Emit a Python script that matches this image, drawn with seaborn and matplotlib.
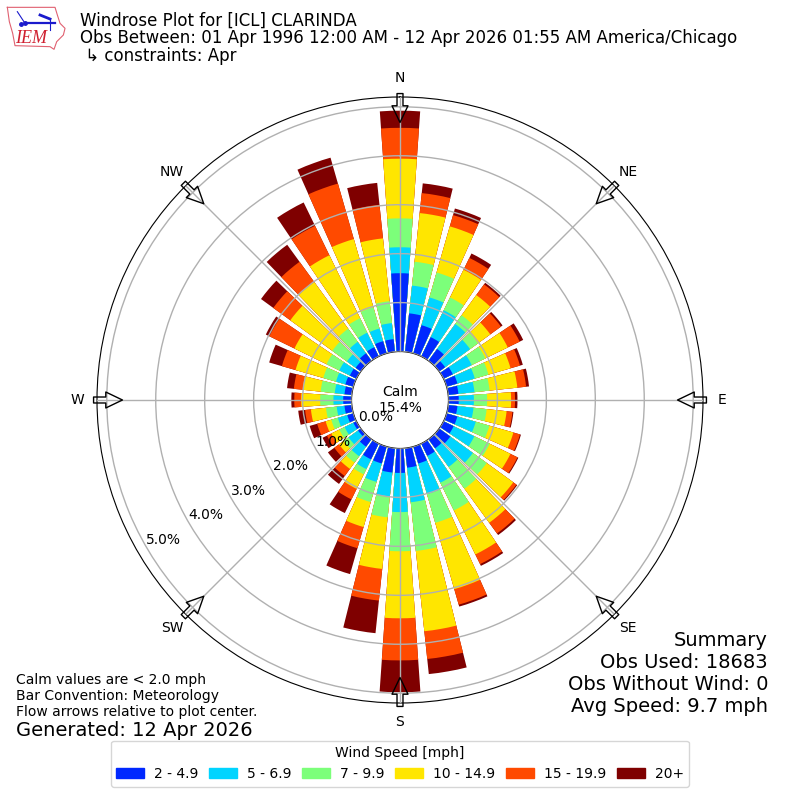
import numpy as np
import pandas as pd
import matplotlib
matplotlib.use('Agg')
import matplotlib.pyplot as plt
import seaborn as sns
from matplotlib.patches import Patch

# wind directions (deg from north) and percent of obs per speed bin
directions = list(range(0, 360, 10))
speed_labels = ['2 - 4.9', '5 - 6.9', '7 - 9.9', '10 - 14.9', '15 - 19.9', '20+']
speed_colors = ['#0028ff', '#00d4ff', '#7cff7a', '#ffe600', '#ff4a00', '#7f0000']

pct_2_5 = [1.60, .79, .60, .44, .30, .15, .21, .23, .21, .21, .19, .23,
           .23, .28, .23, .28, .36, .40, .50, .50, .36, .36, .19, .07,
           .07, .13, .15, .17, .15, .17, .15, .13, .19, .21, .26, .26]
pct_5_7 = [.53, .57, .59, .61, .63, .63, .43, .37, .33, .31, .33, .39,
           .47, .57, .47, .61, .65, .71, .80, .49, .39, .22, .24, .24,
           .20, .20, .16, .20, .20, .20, .24, .22, .29, .33, .27, .33]
pct_7_10 = [.59, .49, .53, .29, .22, .20, .31, .29, .31, .27, .27, .29,
            .35, .35, .55, .63, .61, 1.00, .80, .43, .43, .12, .16, .12,
            .12, .14, .22, .27, .29, .27, .29, .37, .33, .33, .45, .45]
pct_10_15 = [1.22, 1.00, .98, .63, .51, .31, .51, .47, .57, .49, .41, .51,
             .47, .67, .86, 1.00, 1.41, 1.65, 1.37, 1.06, .53, .33, .16, .12,
             .18, .12, .31, .39, .37, .59, .73, 1.06, 1.18, 1.43, 1.45, 1.29]
pct_15_20 = [.63, .41, .24, .27, .27, .27, .27, .20, .18, .08, .12, .14,
             .16, .08, .27, .22, .33, .57, .86, .65, .45, .24, .18, .12,
             .10, .18, .12, .14, .18, .29, .57, .43, .51, .67, 1.18, .69]
pct_20 = [.35, .20, .14, .10, .04, .04, .08, .06, .06, .05, .02, .02,
          .02, .02, .04, .04, .04, .31, .65, .67, .55, .31, .20, .16,
          .10, .16, .14, .06, .14, .27, .08, .31, .43, .53, .55, .45]

compass_angles = [0, 45, 90, 135, 180, 225, 270, 315]
compass_labels = ['N', 'NE', 'E', 'SE', 'S', 'SW', 'W', 'NW']
r_ticks = [0, 1, 2, 3, 4, 5]

palette = sns.color_palette(speed_colors)
bins = [pct_2_5, pct_5_7, pct_7_10, pct_10_15, pct_15_20, pct_20]
cumulative = np.cumsum(np.array(bins), axis=0)

fig = plt.figure(figsize=(8, 8), dpi=100)
ax = fig.add_axes([97 / 800, 97 / 800, 606 / 800, 606 / 800], projection='polar')
ax.set_theta_zero_location('N')
ax.set_theta_direction(-1)

# stacked bars: tallest first, each shorter stack painted over it
theta = np.deg2rad(directions)
for i in range(5, -1, -1):
    df = pd.DataFrame({'theta': theta, 'pct': cumulative[i]})
    sns.barplot(data=df, x='theta', y='pct', color=palette[i], saturation=1,
                native_scale=True, width=0.8, errorbar=None, ax=ax, linewidth=0)

ax.set_xlabel('')
ax.set_ylabel('')
ax.set_xlim(0, 2 * np.pi)
ax.set_rorigin(-0.99)
ax.set_rmin(0)
ax.set_rmax(5.2)
ax.set_axisbelow(False)
ax.set_thetagrids(compass_angles, compass_labels)
ax.set_yticks(r_ticks)
ax.set_yticklabels([f'{v:.1f}%' for v in r_ticks])
ax.set_rlabel_position(240)
ax.tick_params(axis='x', pad=3.5, labelsize=10)
ax.tick_params(axis='y', labelsize=10)
ax.grid(True, color='#b0b0b0', linewidth=1)

# flow arrows pointing at the center
for a in compass_angles:
    ax.annotate('', xy=(np.deg2rad(a), 4.68), xytext=(np.deg2rad(a), 5.27),
                annotation_clip=False,
                arrowprops=dict(facecolor='none', edgecolor='black', linewidth=1,
                                width=4.3, headwidth=11.5, headlength=12, shrink=0))

ax.text(0.5, 0.5, 'Calm\n15.4%', transform=ax.transAxes, ha='center', va='center',
        fontsize=10)

# header
fig.text(80 / 800, 1 - 21 / 800, 'Windrose Plot for [ICL] CLARINDA', fontsize=12, va='center')
fig.text(80 / 800, 1 - 38 / 800,
         'Obs Between: 01 Apr 1996 12:00 AM - 12 Apr 2026 01:55 AM America/Chicago',
         fontsize=12, va='center')
fig.text(80 / 800, 1 - 56 / 800, ' \u21b3 constraints: Apr', fontsize=12, va='center')

# footer notes
fig.text(16 / 800, 1 - 680 / 800, 'Calm values are < 2.0 mph', fontsize=10, va='center')
fig.text(16 / 800, 1 - 696 / 800, 'Bar Convention: Meteorology', fontsize=10, va='center')
fig.text(16 / 800, 1 - 712 / 800, 'Flow arrows relative to plot center.', fontsize=10, va='center')
fig.text(16 / 800, 1 - 730 / 800, 'Generated: 12 Apr 2026', fontsize=14, va='center')
summary = ['Summary', 'Obs Used: 18683', 'Obs Without Wind: 0', 'Avg Speed: 9.7 mph']
for y_px, line in zip([640, 662, 684, 706], summary):
    fig.text(768 / 800, 1 - y_px / 800, line, fontsize=14, ha='right', va='center')

handles = [Patch(color=c, label=l) for c, l in zip(palette, speed_labels)]
fig.legend(handles=handles, title='Wind Speed [mph]', ncol=6, loc='lower center',
           bbox_to_anchor=(0.5, 0.008), fontsize=10, title_fontsize=10,
           columnspacing=0.8, handletextpad=0.7)

# IEM logo, small sketch of the state outline
logo = fig.add_axes([0, 1 - 50 / 800, 66.7 / 800, 50 / 800])
logo.set_xlim(0, 200)
logo.set_ylim(150, 0)
logo.axis('off')
logo.plot([22, 165, 172, 180, 195, 190, 170, 162, 150, 45, 38, 28, 22],
          [22, 22, 45, 70, 85, 105, 125, 148, 140, 137, 100, 65, 22],
          color='#e06070', lw=0.8)
logo.plot([75, 165], [70, 70], color='#1a1acc', lw=1.6)
logo.plot([52, 75], [35, 70], color='#1a1acc', lw=0.8)
logo.plot([120, 150], [45, 57], color='#1a1acc', lw=2)
logo.plot([150, 150], [57, 90], color='#1a1acc', lw=0.8)
logo.plot([75, 62], [70, 72], 'o', color='#1a1acc', ms=2.5)
logo.text(92, 115, 'IEM', color='#d02030', fontsize=13, style='italic', family='Liberation Serif',
          ha='center', va='center')

fig.savefig('out.png', dpi=100)
